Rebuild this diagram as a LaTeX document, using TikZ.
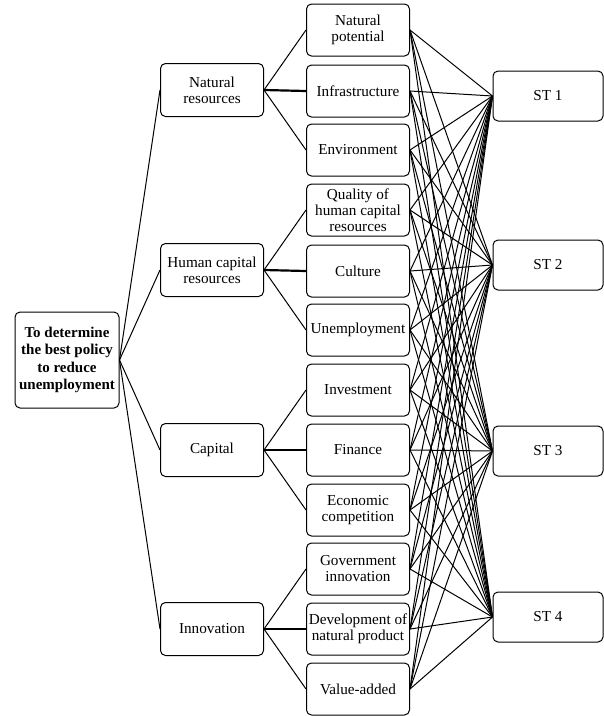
\documentclass[tikz,border=0pt]{standalone}
\usepackage{fontspec}
\setmainfont{Liberation Serif}
\begin{document}
\begin{tikzpicture}[x=1pt,y=-1pt,line width=1pt]

      \useasboundingbox (0,0) rectangle (604,716);

      \begin{scope}[every node/.style={draw,rounded corners=5pt,align=center,inner sep=1pt,
          font=\fontsize{15.2}{16}\selectfont}]
        \node[minimum width=104pt,minimum height=96pt,font=\fontsize{15}{17.5}\selectfont\bfseries]
          (goal) at (67,360) {To determine\\the best policy\\to reduce\\unemployment};

        \begin{scope}[every node/.append style={minimum width=103pt,minimum height=53pt}]
          \node (c1) at (212,90)  {Natural\\resources};
          \node (c2) at (212,270) {Human capital\\resources};
          \node (c3) at (212,450) {Capital};
          \node (c4) at (212,629) {Innovation};
        \end{scope}

        \begin{scope}[every node/.append style={minimum width=103pt,minimum height=52pt}]
          \node (s1)  at (358,30)  {Natural\\potential};
          \node (s2)  at (358,91)  {Infrastructure};
          \node (s3)  at (358,150) {Environment};
          \node (s4)  at (358,210) {Quality of\\human capital\\resources};
          \node (s5)  at (358,271) {Culture};
          \node (s6)  at (358,330) {Unemployment};
          \node (s7)  at (358,390) {Investment};
          \node (s8)  at (358,450) {Finance};
          \node (s9)  at (358,510) {Economic\\competition};
          \node (s10) at (358,569) {Government\\innovation};
          \node (s11) at (358,629) {Development of\\natural product};
          \node (s12) at (358,689) {Value-added};
        \end{scope}

        \begin{scope}[every node/.append style={minimum width=110pt,minimum height=50pt}]
          \node (t1) at (548,96)  {ST 1};
          \node (t2) at (548,265) {ST 2};
          \node (t3) at (548,451) {ST 3};
          \node (t4) at (548,617) {ST 4};
        \end{scope}
      \end{scope}

      \begin{scope}[every edge/.style={draw}, main/.style={line width=2.2pt}]
        % goal to criteria
        \path (goal.east) edge (c1.west) edge (c2.west) edge (c3.west) edge (c4.west);

        % criteria to sub-criteria
        \path (c1.east) edge (s1.west) edge[main] (s2.west) edge (s3.west);
        \path (c2.east) edge (s4.west) edge[main] (s5.west) edge (s6.west);
        \path (c3.east) edge (s7.west) edge[main] (s8.west) edge (s9.west);
        \path (c4.east) edge (s10.west) edge[main] (s11.west) edge (s12.west);

        % sub-criteria to strategies
        \path (s1.east)  edge (t1.west) edge (t2.west) edge (t3.west) edge (t4.west);
        \path (s2.east)  edge (t1.west) edge (t2.west) edge (t3.west) edge (t4.west);
        \path (s3.east)  edge (t1.west) edge (t2.west) edge (t3.west) edge (t4.west);
        \path (s4.east)  edge (t1.west) edge (t2.west) edge (t3.west) edge (t4.west);
        \path (s5.east)  edge (t1.west) edge (t2.west) edge (t3.west) edge (t4.west);
        \path (s6.east)  edge (t1.west) edge (t2.west) edge (t3.west) edge (t4.west);
        \path (s7.east)  edge (t1.west) edge (t2.west) edge (t3.west) edge (t4.west);
        \path (s8.east)  edge (t1.west) edge (t2.west) edge (t3.west) edge (t4.west);
        \path (s9.east)  edge (t1.west) edge (t2.west) edge (t3.west) edge (t4.west);
        \path (s10.east) edge (t1.west) edge (t2.west) edge (t3.west) edge (t4.west);
        \path (s11.east) edge (t1.west) edge (t2.west) edge (t3.west) edge (t4.west);
        \path (s12.east) edge (t1.west) edge (t2.west) edge (t3.west) edge (t4.west);
      \end{scope}

    \end{tikzpicture}
\end{document}
